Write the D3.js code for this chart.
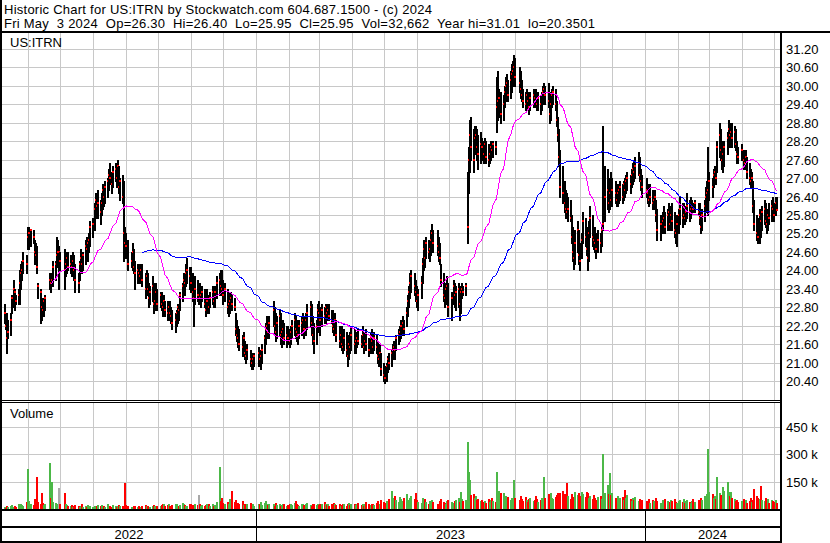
<!DOCTYPE html>
<html><head><meta charset="utf-8">
<script src="https://cdn.jsdelivr.net/npm/d3@7"></script>
<style>
body{margin:0;background:#fff}
svg{display:block}
text{font-family:"Liberation Sans",Arial,sans-serif;font-size:13px;fill:#000;white-space:pre}
text.hdr{letter-spacing:0.25px}
</style></head>
<body><svg id="c" width="830" height="543"></svg>
<script>
// ---------------- DATA ----------------
const headerLines = [
  "Historic Chart for US:ITRN by Stockwatch.com 604.687.1500 - (c) 2024",
  "Fri May  3 2024  Op=26.30  Hi=26.40  Lo=25.95  Cl=25.95  Vol=32,662  Year hi=31.01  lo=20.3501"
];
const symbol = "US:ITRN";
const firstDay = "2022-05-10", lastDay = "2024-05-03";
const holidays = ["2022-05-30","2022-06-20","2022-07-04","2022-09-05","2022-11-24","2022-12-26",
  "2023-01-02","2023-01-16","2023-02-20","2023-04-07","2023-05-29","2023-06-19","2023-07-04",
  "2023-09-04","2023-11-23","2023-12-25","2024-01-01","2024-01-15","2024-02-19","2024-03-29"];
const priceTicks = [31.2,30.6,30.0,29.4,28.8,28.2,27.6,27.0,26.4,25.8,25.2,24.6,24.0,23.4,22.8,22.2,21.6,21.0,20.4];
const volTicks = [150,300,450];
const yearLabels = ["2022","2023","2024"];

const hi = [
22.9,22.5,22.6,22.4,22.6,23.2,23.7,23.4,23.2,23.4,24.0,24.2,24.3,24.6,24.5,
25.4,25.4,25.3,25.3,25.0,24.9,24.8,23.6,23.4,23.1,23.0,23.1,23.2,23.9,23.8,23.9,24.3,24.3,25.1,25.0,24.8,
24.6,24.7,24.5,24.6,24.6,24.5,24.4,24.6,24.5,24.2,23.9,24.3,24.7,24.6,24.6,25.0,25.1,25.0,25.2,25.6,
25.7,26.2,26.5,26.4,26.6,26.3,26.5,26.8,26.7,26.9,27.0,27.3,27.5,27.2,27.4,27.5,27.4,27.6,27.4,27.0,27.1,26.9,25.4,
25.2,25.0,24.6,24.9,24.7,24.3,24.2,24.2,24.1,24.2,24.2,23.9,24.0,23.9,23.6,23.5,23.8,23.6,23.3,23.6,23.4,
23.3,23.3,23.1,23.2,23.0,23.0,22.9,23.0,22.8,22.7,22.6,22.7,22.9,22.9,23.3,23.6,23.9,23.8,24.2,24.4,24.1,
24.1,23.9,23.6,23.8,23.7,23.5,23.6,23.4,23.5,23.4,23.2,23.4,23.2,23.3,23.5,23.4,23.5,23.8,23.9,24.0,24.0,
23.7,23.6,23.4,23.1,23.3,23.3,23.2,23.1,22.6,22.4,22.2,22.1,21.9,22.0,21.7,21.5,21.6,21.4,21.3,21.2,21.3,
21.5,21.4,21.3,21.6,21.9,22.3,22.5,22.4,22.5,23.0,22.8,22.6,22.5,22.7,22.6,22.3,22.4,22.3,22.2,22.2,
22.1,22.2,22.4,22.6,22.5,22.4,22.3,22.4,22.5,22.6,22.5,22.6,22.9,23.0,22.9,22.5,22.3,22.4,22.9,
23.0,22.8,22.9,22.8,22.9,22.9,22.8,22.9,22.7,22.7,22.5,22.6,22.4,22.2,22.1,22.2,21.9,22.1,22.0,21.8,21.9,22.0,22.2,
22.1,21.9,22.0,22.1,21.9,22.2,22.0,21.9,22.1,21.8,22.0,22.1,21.9,22.0,21.9,21.7,21.5,21.6,21.3,
21.0,20.9,21.0,21.2,21.3,21.4,21.6,21.7,21.6,21.9,22.1,22.2,22.4,22.5,22.4,22.8,23.2,23.5,23.9,24.0,23.9,23.7,
23.5,23.4,23.8,24.4,25.0,24.9,25.1,25.0,24.9,25.3,25.5,25.3,25.3,25.1,24.9,24.2,23.9,23.4,23.6,23.8,23.6,
23.3,23.7,23.6,23.5,23.6,23.5,23.4,23.6,23.5,23.6,27.2,28.0,28.9,29.0,28.6,28.7,28.7,28.6,28.4,28.5,
28.3,28.2,28.3,28.2,28.1,28.0,28.2,28.1,28.2,28.2,30.3,30.5,29.9,29.8,29.7,30.0,30.3,30.4,30.2,30.5,30.7,30.8,31.01,
30.9,30.6,30.5,30.2,29.9,29.8,29.9,29.8,29.7,29.8,29.9,29.8,29.9,29.7,29.8,29.7,29.8,30.0,30.1,30.0,
30.1,29.8,29.6,29.9,30.0,29.9,29.5,29.0,28.6,27.9,27.4,26.9,26.6,26.5,26.4,26.3,25.8,25.4,25.0,25.3,25.6,25.3,
24.9,25.2,25.9,25.7,25.4,25.0,25.6,26.1,25.8,25.4,25.4,25.2,25.3,25.2,25.5,28.7,27.4,27.3,27.0,26.8,27.2,
27.0,26.9,26.8,26.7,26.8,26.9,26.8,26.9,27.0,27.1,27.2,27.1,27.3,27.5,27.6,27.7,27.85,27.7,27.3,27.1,
27.0,26.8,26.7,26.8,26.6,26.5,26.6,26.3,26.0,25.8,25.9,26.1,25.9,26.0,26.2,26.0,26.1,26.2,25.9,25.7,25.8,
26.0,26.4,26.2,26.2,26.0,26.1,26.5,26.3,26.4,26.3,26.2,26.3,26.2,26.2,25.9,26.0,26.3,26.7,26.9,28.0,
27.2,27.0,27.3,27.4,27.3,28.2,28.8,28.6,28.2,28.1,28.2,28.5,28.9,28.8,28.8,28.8,28.7,28.6,28.2,28.0,
28.1,27.9,27.8,27.9,27.7,27.5,27.3,27.2,26.9,26.3,25.8,25.7,26.0,25.9,26.1,26.3,26.2,25.9,26.0,26.2,26.3,26.4,
26.2,26.4,26.40];

const lo = [
22.3,22.1,21.3,21.8,21.9,22.6,22.8,22.7,22.9,22.9,22.9,23.4,23.7,23.9,23.9,
24.7,24.7,24.8,24.9,24.2,24.3,23.9,23.1,22.3,22.4,22.5,22.5,22.7,23.4,23.3,23.5,23.5,23.7,24.1,24.2,23.4,
24.0,23.4,23.8,23.9,24.0,23.9,23.8,23.8,23.7,23.3,23.3,23.7,24.0,23.9,24.0,24.2,24.4,24.3,24.6,24.8,
25.1,25.3,25.7,25.8,25.7,25.5,25.8,26.0,26.1,26.2,26.4,26.6,26.8,26.5,26.7,26.9,26.7,26.8,26.5,26.3,26.2,24.3,24.6,
24.4,24.0,24.1,24.0,23.9,23.4,23.6,23.7,23.6,23.7,23.5,23.1,23.2,23.2,22.8,22.9,23.0,22.6,22.7,22.9,22.7,
22.8,22.7,22.5,22.6,22.5,22.4,22.4,22.5,22.3,22.1,22.0,22.2,22.3,22.4,22.7,23.0,23.3,23.2,23.5,23.6,23.4,
23.3,23.0,22.2,22.9,23.0,22.9,22.9,22.8,23.0,22.8,22.5,22.6,22.6,22.8,22.9,22.8,22.8,23.1,23.2,23.3,23.2,
22.9,23.0,22.6,22.5,22.6,22.7,22.7,22.7,21.9,21.7,21.5,21.4,21.2,21.4,21.1,21.0,21.1,20.9,20.8,20.8,20.9,
20.9,20.9,20.8,21.0,21.3,21.6,21.9,21.8,21.8,22.2,21.9,21.7,21.8,21.9,21.6,21.5,21.7,21.6,21.5,21.6,
21.5,21.6,21.8,21.9,21.8,21.7,21.6,21.8,21.9,22.0,21.8,21.9,22.1,22.2,21.9,21.6,21.3,21.6,22.0,
22.2,21.9,22.2,22.3,22.3,22.4,22.4,22.4,22.3,22.0,21.9,22.0,21.7,21.5,21.6,21.4,21.3,21.4,21.2,20.9,21.1,21.3,21.4,
21.3,21.3,21.5,21.6,21.5,21.5,21.3,21.4,21.4,21.2,21.3,21.4,21.3,21.4,21.3,21.0,20.9,20.9,20.6,
20.4,20.35,20.4,20.7,20.8,20.9,21.1,21.2,21.1,21.4,21.6,21.7,21.8,21.9,21.9,22.2,22.5,22.8,23.1,23.3,23.2,23.0,
22.8,22.7,23.1,23.6,24.0,24.1,24.4,24.4,24.3,24.5,24.7,24.6,24.5,24.3,24.2,23.5,23.0,22.8,22.9,23.0,22.5,
22.4,22.9,22.8,22.7,22.8,22.4,22.6,23.1,23.2,23.2,24.9,26.5,27.2,27.6,27.2,27.8,27.9,27.6,27.3,27.5,
27.6,27.5,27.6,27.5,27.4,27.5,27.6,27.7,27.7,27.8,28.5,28.9,29.0,28.8,28.9,29.3,29.5,29.6,29.5,29.6,29.8,30.0,30.1,
30.0,29.8,29.6,29.5,29.3,29.2,29.3,29.2,29.1,29.2,29.3,29.4,29.3,29.2,29.2,29.1,29.2,29.4,29.5,29.4,
29.3,28.8,28.9,29.3,29.4,29.2,28.7,28.2,27.4,26.4,26.2,25.9,25.7,25.7,25.6,25.6,24.9,24.3,24.05,24.2,24.6,24.2,
24.0,24.4,24.9,24.8,24.5,24.0,24.3,25.1,24.8,24.7,24.6,24.4,24.6,24.6,24.8,25.3,25.6,26.0,25.9,26.0,26.2,
26.1,26.2,26.1,26.1,26.2,26.3,26.2,26.3,26.4,26.5,26.6,26.5,26.7,26.8,26.9,27.0,27.1,26.9,26.6,26.4,
26.4,26.2,26.1,26.2,26.0,26.0,26.1,25.6,25.0,25.0,25.2,25.3,25.2,25.3,25.5,25.3,25.4,25.3,25.1,24.9,24.8,
25.2,25.5,25.4,25.5,25.5,25.6,25.7,25.6,25.7,25.9,25.9,25.9,25.8,25.5,25.2,25.3,25.6,25.9,26.1,25.8,
26.3,26.4,26.7,26.8,26.8,27.2,27.7,27.6,27.3,27.2,27.4,27.8,28.0,28.0,28.1,28.0,28.0,27.9,27.5,27.5,
27.6,27.3,27.3,27.4,27.0,26.8,26.7,26.7,25.9,25.3,25.0,24.9,24.9,25.1,25.3,25.5,25.4,25.2,25.3,25.5,25.6,25.7,
25.6,25.8,25.95];

const cl = [
22.6,22.2,21.8,22.0,22.4,23.1,23.4,23.3,23.0,23.2,23.6,23.9,24.0,24.3,24.2,
25.1,25.2,25.3,25.1,24.6,24.5,24.1,23.5,23.3,22.8,22.7,23.0,23.1,23.7,23.6,23.7,24.1,24.2,24.5,24.6,24.6,
24.3,24.0,24.2,24.4,24.1,24.2,24.1,24.3,24.0,23.7,23.6,24.2,24.4,24.2,24.5,24.8,24.7,24.9,25.0,25.4,
25.5,26.0,26.3,26.1,26.2,25.9,26.2,26.6,26.4,26.7,26.9,27.1,27.0,26.8,27.2,27.3,27.0,27.4,26.7,26.9,26.4,25.2,24.9,
24.8,24.2,24.3,24.6,24.1,23.9,24.0,23.9,23.8,24.0,23.7,23.4,23.8,23.4,23.1,23.3,23.5,22.9,23.0,23.3,22.9,
23.2,22.9,22.8,23.0,22.7,22.6,22.8,22.6,22.5,22.3,22.4,22.6,22.8,22.7,23.2,23.5,23.7,23.6,23.9,24.0,23.8,
23.6,23.3,23.1,23.4,23.2,23.2,23.1,23.2,23.3,22.9,22.7,23.0,22.8,23.1,23.3,23.0,23.3,23.6,23.7,23.5,23.4,
23.2,23.4,22.8,22.9,23.0,23.1,22.9,22.8,22.1,21.9,21.8,21.6,21.5,21.8,21.3,21.2,21.4,21.1,21.0,21.1,21.2,
21.3,21.1,21.2,21.4,21.8,22.1,22.2,22.0,22.3,22.7,22.2,22.0,22.3,22.5,21.9,22.0,22.1,21.8,21.9,21.8,
21.7,22.0,22.2,22.4,22.1,22.0,21.9,22.2,22.3,22.4,22.1,22.4,22.6,22.8,22.3,21.9,21.7,22.2,22.7,
22.6,22.4,22.7,22.5,22.8,22.6,22.7,22.5,22.4,22.2,22.1,22.4,21.9,21.7,21.9,21.6,21.5,21.8,21.4,21.2,21.6,21.5,21.9,
21.6,21.7,21.8,21.7,21.6,21.9,21.5,21.7,21.6,21.4,21.8,21.7,21.5,21.8,21.5,21.2,21.1,21.3,20.8,
20.6,20.5,20.9,21.1,21.0,21.3,21.4,21.5,21.4,21.8,21.9,22.0,22.2,22.3,22.1,22.6,23.0,23.3,23.6,23.8,23.5,23.3,
23.0,23.2,23.6,24.2,24.7,24.4,24.9,24.6,24.7,25.0,25.2,24.9,24.8,24.6,24.4,23.7,23.2,23.1,23.4,23.5,22.8,
23.1,23.5,23.2,23.3,23.4,22.9,23.3,23.4,23.3,23.5,25.4,27.6,28.4,28.0,27.6,28.3,28.4,28.0,27.8,28.1,
28.0,27.8,28.1,27.7,27.6,27.8,28.0,27.9,28.1,28.0,29.3,29.5,29.6,29.1,29.4,29.8,30.0,30.1,29.7,30.2,30.4,30.5,30.6,
30.3,30.1,29.9,29.7,29.5,29.4,29.7,29.5,29.3,29.6,29.7,29.6,29.5,29.4,29.6,29.4,29.7,29.8,29.9,29.7,
29.5,29.1,29.4,29.7,29.8,29.4,28.9,28.4,27.7,26.7,26.5,26.2,26.0,25.9,26.0,25.7,25.1,24.6,24.4,24.9,25.3,24.5,
24.3,25.0,25.6,25.1,24.7,24.4,25.2,25.7,25.1,25.0,24.9,24.7,25.0,24.9,25.3,25.5,26.4,26.6,26.2,26.5,26.3,
26.6,26.5,26.3,26.5,26.6,26.7,26.4,26.8,26.6,26.9,27.0,26.8,27.1,27.3,27.2,27.4,27.5,27.1,26.9,26.7,
26.6,26.5,26.3,26.4,26.2,26.3,26.4,25.8,25.3,25.5,25.6,25.7,25.4,25.8,25.9,25.5,25.8,25.6,25.3,25.2,25.5,
25.8,26.0,25.7,25.8,25.7,25.9,26.1,25.9,26.0,26.1,26.0,26.2,25.9,25.7,25.4,25.8,26.1,26.4,26.5,26.6,
26.9,26.7,27.1,27.2,27.0,28.0,28.4,27.9,27.6,27.8,28.0,28.3,28.6,28.4,28.5,28.3,28.5,28.1,27.8,27.7,
27.9,27.6,27.5,27.7,27.2,27.0,26.9,27.0,26.1,25.5,25.2,25.1,25.8,25.6,25.9,26.0,25.6,25.5,25.8,25.7,26.1,26.0,
25.8,26.2,25.95];

// volume, thousands of shares
const vol = [
12,8,15,10,18,22,9,14,11,25,16,30,20,14,40,
218,45,30,20,55,25,175,40,30,87,35,20,28,250,60,147,40,35,25,30,115,
30,87,25,20,15,18,22,12,16,20,14,10,18,25,12,15,10,20,14,16,
12,18,10,15,22,14,20,12,16,10,25,18,14,12,20,15,10,18,22,14,16,12,140,
20,15,12,10,18,14,12,16,10,12,15,20,14,18,12,10,15,20,14,12,16,
18,22,30,25,15,20,28,18,14,20,25,30,18,15,22,35,28,20,15,18,25,
30,22,18,28,20,75,25,18,22,15,20,28,30,18,25,15,20,40,230,45,60,
35,28,40,30,55,35,98,40,50,30,35,25,45,20,30,15,25,35,20,28,18,
25,30,40,22,35,45,28,20,30,25,18,35,22,28,15,20,30,25,18,22,
25,30,20,35,45,28,22,18,30,25,20,28,35,22,18,25,30,20,28,
22,30,25,40,28,20,25,18,30,22,35,25,20,28,15,22,30,25,18,28,35,20,25,
30,22,28,35,20,25,18,30,40,25,22,30,28,20,35,45,30,25,50,
40,35,45,30,55,98,60,45,70,50,40,65,55,45,60,82,50,45,60,70,55,87,
50,40,35,60,45,55,40,30,45,35,50,40,30,25,45,55,40,35,30,45,50,
40,35,45,50,60,40,93,55,45,50,365,200,160,75,80,60,70,50,55,45,
50,40,45,35,55,40,50,60,45,40,200,98,98,85,90,60,70,55,65,50,60,45,158,
60,50,70,55,45,65,50,40,55,60,45,50,70,55,40,50,60,45,175,60,
80,70,90,60,55,65,75,85,70,90,100,80,60,140,70,55,80,65,60,93,75,85,
70,93,80,65,93,85,60,70,55,75,60,50,65,70,55,300,90,130,80,196,75,
87,60,50,70,55,60,65,50,104,60,76,55,45,60,50,65,45,55,40,50,
45,40,55,35,50,45,40,60,45,35,50,40,55,45,35,40,50,45,55,40,35,
45,50,40,55,35,45,50,40,35,45,55,40,50,45,60,50,70,65,80,327,
93,80,60,70,55,175,90,75,70,120,100,147,95,70,93,60,55,45,50,40,
45,55,40,50,35,45,60,40,50,109,70,60,55,126,50,45,60,40,55,35,50,45,
40,50,32.662];

// ---------------- trading calendar ----------------
const fmt = d3.timeFormat("%Y-%m-%d"), parse = d3.timeParse("%Y-%m-%d");
const hol = new Set(holidays);
const dates = [];
for (let d = parse(firstDay); d <= parse(lastDay); d = d3.timeDay.offset(d, 1)) {
  const wd = d.getDay();
  if (wd === 0 || wd === 6 || hol.has(fmt(d))) continue;
  dates.push(d);
}
const bars = cl.map((c, i) => ({date: dates[i], h: hi[i], l: lo[i], c: c, v: vol[i],
  dir: i === 0 ? 1 : Math.sign(c - cl[i-1])}));

function sma(n) {
  return cl.map((c, i) => i < n - 1 ? null : d3.mean(cl.slice(i - n + 1, i + 1)));
}
const ma30 = sma(30), ma90 = sma(90);

// ---------------- layout ----------------
const svg = d3.select("#c");
const PL = 2, PR = 780;          // plot left / right
const PT = 33, PB = 400;         // price panel
const VT = 403, VB = 509;        // volume panel
const x = d3.scaleTime().domain([new Date(2023,0,1), new Date(2024,0,1)]).range([256, 645]);
const y = d3.scaleLinear().domain([20.4, 31.2]).range([381, 49]);
const yv = d3.scaleLinear().domain([0, 150]).range([509, 481.5]);

svg.append("rect").attr("width", 830).attr("height", 543).attr("fill", "#fff");

const defs = svg.append("defs");
defs.append("clipPath").attr("id", "pclip").append("rect")
  .attr("x", PL).attr("y", PT).attr("width", PR - PL).attr("height", PB - PT);
defs.append("clipPath").attr("id", "vclip").append("rect")
  .attr("x", PL).attr("y", VT).attr("width", PR - PL).attr("height", VB - VT);

const grid = svg.append("g").attr("stroke", "#c8c8c8").attr("stroke-width", 1).attr("shape-rendering", "crispEdges");
const months = d3.timeMonth.range(new Date(2022,5,1), new Date(2024,5,1)).filter(m => x(m) < PR - 1);
months.forEach(m => {
  const px = Math.round(x(m)) + 0.5;
  grid.append("line").attr("x1", px).attr("x2", px).attr("y1", PT).attr("y2", PB);
  grid.append("line").attr("x1", px).attr("x2", px).attr("y1", VT).attr("y2", VB);
});
priceTicks.forEach(t => {
  const py = Math.round(y(t)) + 0.5;
  grid.append("line").attr("x1", PL).attr("x2", PR).attr("y1", py).attr("y2", py);
});
volTicks.forEach(t => {
  const py = Math.round(yv(t)) + 0.5;
  grid.append("line").attr("x1", PL).attr("x2", PR).attr("y1", py).attr("y2", py);
});

// volume bars
const vcol = d => d.dir > 0 ? "#4cb848" : d.dir < 0 ? "#ff0000" : "#a9a9a9";
svg.append("g").attr("clip-path", "url(#vclip)").attr("shape-rendering", "crispEdges")
  .selectAll("rect").data(bars).join("rect")
  .attr("x", d => Math.floor(x(d.date)))
  .attr("width", 2)
  .attr("y", d => Math.round(yv(d.v)))
  .attr("height", d => Math.max(0, 509 - Math.round(yv(d.v))))
  .attr("fill", vcol);

// price bars: high-low in black, close mark in red
const pb = svg.append("g").attr("clip-path", "url(#pclip)").attr("shape-rendering", "crispEdges")
  .selectAll("g").data(bars).join("g");
pb.append("rect")
  .attr("x", d => Math.floor(x(d.date))).attr("width", 2)
  .attr("y", d => Math.round(y(d.h)))
  .attr("height", d => Math.max(1, Math.round(y(d.l)) - Math.round(y(d.h)) + 1))
  .attr("fill", "#000");
pb.append("rect")
  .attr("x", d => Math.floor(x(d.date))).attr("width", 2)
  .attr("y", d => Math.round(y(d.c)) - 1).attr("height", 2)
  .attr("fill", "#ff0000");

// moving averages
const maLine = arr => d3.line().defined((d, i) => arr[i] != null)
  .x((d, i) => x(dates[i]) + 0.5).y((d, i) => y(arr[i] == null ? 0 : arr[i]))(arr);
const mg = svg.append("g").attr("clip-path", "url(#pclip)").attr("fill", "none").attr("stroke-width", 1).attr("shape-rendering", "crispEdges");
mg.append("path").attr("d", maLine(ma90)).attr("stroke", "#0000ff");
mg.append("path").attr("d", maLine(ma30)).attr("stroke", "#ff00ff");

// frame
const fr = svg.append("g").attr("fill", "#000").attr("shape-rendering", "crispEdges");
fr.append("rect").attr("x", 0).attr("y", 31).attr("width", 830).attr("height", 2);
fr.append("rect").attr("x", 0).attr("y", 0).attr("width", 2).attr("height", 543);
fr.append("rect").attr("x", PR).attr("y", 31).attr("width", 2).attr("height", 512);
fr.append("rect").attr("x", 0).attr("y", 400).attr("width", PR).attr("height", 1);
fr.append("rect").attr("x", 0).attr("y", 402).attr("width", PR).attr("height", 1);
fr.append("rect").attr("x", 0).attr("y", 509).attr("width", PR).attr("height", 2);
fr.append("rect").attr("x", 0).attr("y", 526).attr("width", PR).attr("height", 2);
fr.append("rect").attr("x", 0).attr("y", 541).attr("width", PR).attr("height", 2);
const yb = [new Date(2023,0,1), new Date(2024,0,1)].map(d => Math.round(x(d)));
yb.forEach(px => fr.append("rect").attr("x", px).attr("y", 511).attr("width", 1).attr("height", 30));

// texts
svg.selectAll("text.hdr").data(headerLines).join("text").attr("class", "hdr")
  .attr("x", 4).attr("y", (d, i) => 14 + i * 14).text(d => d);
svg.append("text").attr("x", 10).attr("y", 47).text(symbol);
svg.append("text").attr("x", 10).attr("y", 418).text("Volume");
svg.selectAll("text.pt").data(priceTicks).join("text").attr("class", "pt")
  .attr("x", 786).attr("y", d => Math.round(y(d)) + 5).text(d => d3.format(".2f")(d));
svg.selectAll("text.vt").data(volTicks).join("text").attr("class", "vt")
  .attr("x", 786).attr("y", d => Math.round(yv(d)) + 5).text(d => d + " k");
const yearEdges = [PL, ...yb, PR];
svg.selectAll("text.yr").data(yearLabels).join("text").attr("class", "yr")
  .attr("text-anchor", "middle")
  .attr("x", (d, i) => (yearEdges[i] + yearEdges[i + 1]) / 2).attr("y", 539).text(d => d);
</script></body></html>
